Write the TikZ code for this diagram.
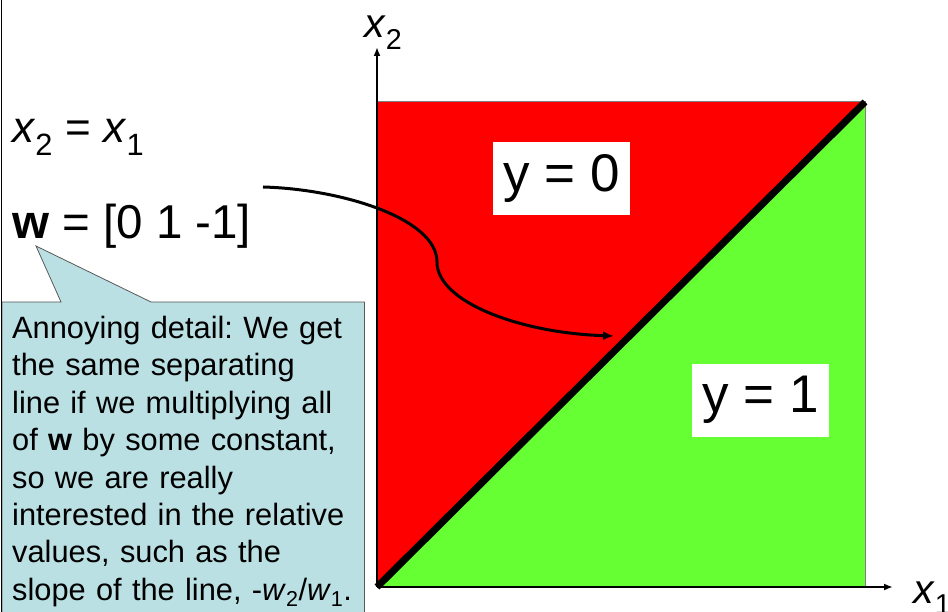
\documentclass[tikz,border=0pt]{standalone}
\usepackage{fontspec}
\setmainfont{Liberation Sans}
\usepackage{tikz}
\usetikzlibrary{arrows.meta,positioning,calc,backgrounds}
\definecolor{sepRed}{HTML}{FF0000}
\definecolor{sepGreen}{HTML}{66FF33}
\definecolor{noteBlue}{HTML}{BAE0E3}
\newcommand{\bigtxt}{\fontsize{44}{52}\selectfont}
\frenchspacing

\begin{document}
\begin{tikzpicture}[x=1pt,y=-1pt,
    lefttext/.style={font=\bigtxt,inner sep=0pt,anchor=base west},
    axlabel/.style={font=\fontsize{41}{48}\selectfont,inner sep=0pt,anchor=base west},
    regionbox/.style={fill=white,inner sep=0pt,minimum width=137pt,minimum height=73pt,
                      font=\fontsize{53}{53}\selectfont},
    notetext/.style={anchor=north west,text width=342pt,align=left,inner xsep=10pt,
                     inner ysep=14pt,font=\fontsize{30.8}{37.4}\selectfont},
    axis/.style={line width=1.8pt,-{Latex[length=9pt,width=7pt]}}]
  \useasboundingbox (0,0) rectangle (948,612);

  % frame on the left
  \draw[line width=1.5pt] (1.5,0) -- (1.5,612);

  % the two regions
  \coordinate (O) at (377,587);
  \coordinate (tl) at (377,102);
  \coordinate (tr) at (865,102);
  \coordinate (br) at (865,587);
  \fill[sepRed] (O) -- (tl) -- (tr) -- cycle;
  \fill[sepGreen] (O) -- (br) -- (tr) -- cycle;
  \draw[gray,line width=1pt] (tl) -- (tr) -- (br);
  \draw[line width=7pt] (O) -- (tr);

  % axes
  \coordinate (x1end) at (893,587);
  \coordinate (x2end) at (377,47);
  \draw[axis] (O) -- (x1end);
  \draw[axis] (O) -- (x2end);
  \node[axlabel] (x2lab) at (364,38) {\textit{x}\textsubscript{2}};
  \node[axlabel] (x1lab) at (913,603) {\textit{x}\textsubscript{1}};

  \node[regionbox] (y0) at (561.5,178.5) {y = 0};
  \node[regionbox] (y1) at (760.5,400) {y = 1};

  \node[lefttext] (line) at (12,143) {\textit{x}\textsubscript{2} = \textit{x}\textsubscript{1}};
  \node[lefttext,font=\fontsize{47.5}{52}\selectfont] (weights) at (12,239) {\textbf{w} = [0 1 -1]};

  % callout
  \coordinate (tip) at (36,246);
  \node[notetext] (note) at (2,302) {Annoying detail: We get\\
    the same separating\\
    line if we multiplying all\\
    of \textbf{w} by some constant,\\
    so we are really\\
    interested in the relative\\
    values, such as the\\
    slope of the line, -\textit{w}\textsubscript{2}/\textit{w}\textsubscript{1}.};
  \begin{scope}[on background layer]
    \filldraw[fill=noteBlue,draw=gray!70!black,line width=0.8pt]
      (note.north west) -- ($(note.north west)+(59,0)$) -- (tip)
      -- ($(note.north west)+(149,0)$) -- (note.north east)
      -- (note.south east) -- (note.south west) -- cycle;
  \end{scope}

  % arrow to the separating line
  \coordinate (arrowstart) at (263,187);
  \coordinate (bend) at (437,262);
  \coordinate (arrowend) at (614,336);
  \draw[line width=3pt,-{Latex[length=11pt,width=9pt]}]
    (arrowstart) .. controls (340,189) and (437,218) .. (bend)
    .. controls (437,302) and (520,333) .. (arrowend);
\end{tikzpicture}
\end{document}
